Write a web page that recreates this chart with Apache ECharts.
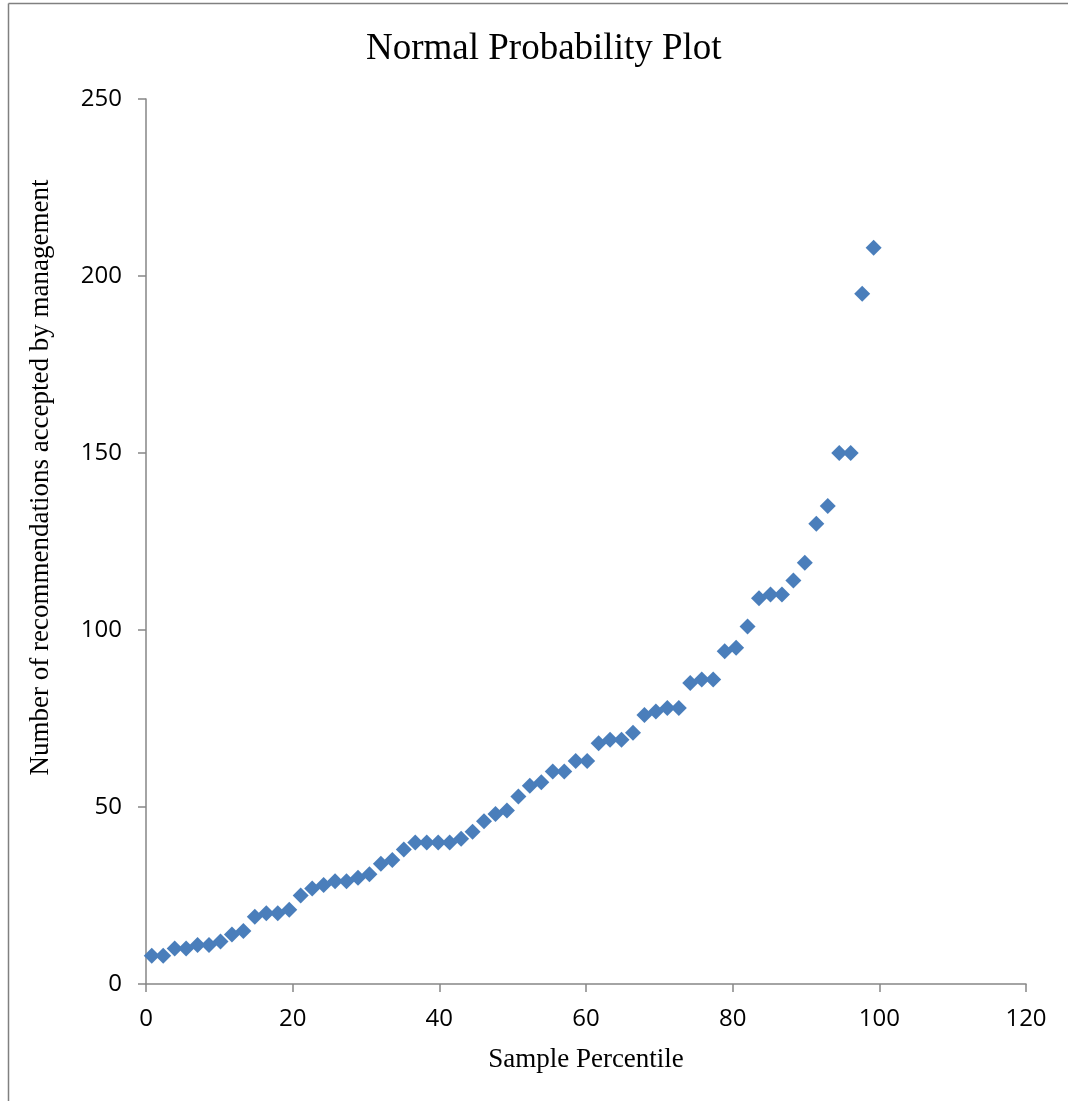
<!DOCTYPE html>
<html>
<head>
<meta charset="utf-8">
<script src="https://cdn.jsdelivr.net/npm/echarts@6/dist/echarts.min.js"></script>
<style>
html,body{margin:0;padding:0;background:#fff;}
#chart{width:1068px;height:1101px;}
</style>
</head>
<body>
<div id="chart"></div>
<script>
// Sample percentiles (x)
var percentiles = [0.78, 2.34, 3.91, 5.47, 7.03, 8.59, 10.16, 11.72, 13.28, 14.84,
  16.41, 17.97, 19.53, 21.09, 22.66, 24.22, 25.78, 27.34, 28.91, 30.47,
  32.03, 33.59, 35.16, 36.72, 38.28, 39.84, 41.41, 42.97, 44.53, 46.09,
  47.66, 49.22, 50.78, 52.34, 53.91, 55.47, 57.03, 58.59, 60.16, 61.72,
  63.28, 64.84, 66.41, 67.97, 69.53, 71.09, 72.66, 74.22, 75.78, 77.34,
  78.91, 80.47, 82.03, 83.59, 85.16, 86.72, 88.28, 89.84, 91.41, 92.97,
  94.53, 96.09, 97.66, 99.22];
// Number of recommendations accepted by management (y)
var accepted = [8, 8, 10, 10, 11, 11, 12, 14, 15, 19,
  20, 20, 21, 25, 27, 28, 29, 29, 30, 31,
  34, 35, 38, 40, 40, 40, 40, 41, 43, 46,
  48, 49, 53, 56, 57, 60, 60, 63, 63, 68,
  69, 69, 71, 76, 77, 78, 78, 85, 86, 86,
  94, 95, 101, 109, 110, 110, 114, 119, 130, 135,
  150, 150, 195, 208];
var chartTitle = 'Normal Probability Plot';
var xTitle = 'Sample Percentile';
var yTitle = 'Number of recommendations accepted by management';

var points = percentiles.map(function (p, i) { return [p, accepted[i]]; });

var chart = echarts.init(document.getElementById('chart'), null, {renderer: 'canvas'});
var axisColor = '#868686';
var serif = '"Liberation Serif", "Times New Roman", serif';
var sans = '"Open Sans", "Liberation Sans", sans-serif';

chart.setOption({
  animation: false,
  backgroundColor: '#ffffff',
  title: {
    text: chartTitle,
    left: 361,
    top: 26,
    textStyle: {fontFamily: serif, fontSize: 37, fontWeight: 'normal', color: '#000'}
  },
  graphic: [
    {type: 'line', shape: {x1: 8.5, y1: 3.5, x2: 1068, y2: 3.5}, style: {stroke: '#808080', lineWidth: 1.5}},
    {type: 'line', shape: {x1: 8.5, y1: 3.5, x2: 8.5, y2: 1101}, style: {stroke: '#808080', lineWidth: 1.5}}
  ],
  grid: {left: 146, right: 42, top: 99, bottom: 117, containLabel: false},
  xAxis: {
    type: 'value',
    min: 0, max: 120, interval: 20,
    name: xTitle,
    nameLocation: 'middle',
    nameGap: 62,
    nameTextStyle: {fontFamily: serif, fontSize: 27, color: '#000'},
    axisLine: {show: true, onZero: false, lineStyle: {color: axisColor, width: 1.5}},
    axisTick: {show: true, inside: false, length: 8, lineStyle: {color: axisColor, width: 1.5}},
    axisLabel: {margin: 23, fontFamily: sans, fontSize: 24, color: '#000'},
    splitLine: {show: false}
  },
  yAxis: {
    type: 'value',
    min: 0, max: 250, interval: 50,
    name: yTitle,
    nameLocation: 'middle',
    nameGap: 92,
    nameRotate: 90,
    nameTextStyle: {fontFamily: serif, fontSize: 27, color: '#000', padding: [0, 0, 0, 128]},
    axisLine: {show: true, onZero: false, lineStyle: {color: axisColor, width: 1.5}},
    axisTick: {show: true, inside: false, length: 8, lineStyle: {color: axisColor, width: 1.5}},
    axisLabel: {margin: 24, fontFamily: sans, fontSize: 24, color: '#000'},
    splitLine: {show: false}
  },
  series: [{
    type: 'scatter',
    data: points,
    symbol: 'diamond',
    symbolSize: 16,
    itemStyle: {color: '#4A7EBB', opacity: 1}
  }]
});
</script>
</body>
</html>
